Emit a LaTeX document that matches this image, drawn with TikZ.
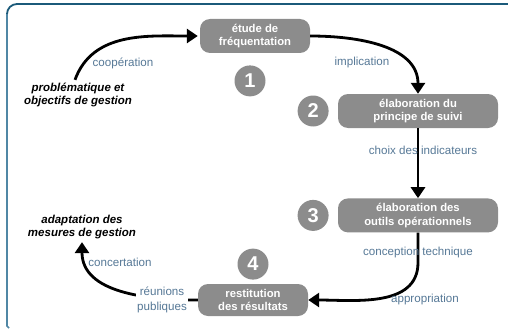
\documentclass[tikz,border=0pt]{standalone}
\usepackage{fontspec}
\setmainfont{Liberation Sans}
\usetikzlibrary{positioning,arrows.meta}
\definecolor{boxgray}{RGB}{140,140,140}
\definecolor{lblblue}{RGB}{86,120,150}
\definecolor{framedark}{RGB}{27,90,122}
\definecolor{framelight}{RGB}{80,135,165}
\tikzset{
box/.style={rounded corners=10pt, fill=boxgray, text=white, font=\fontsize{11.3}{13.5}\selectfont\bfseries, align=center, minimum width=110pt, minimum height=34pt, inner sep=2pt},
wide/.style={minimum width=160pt},
num/.style={circle, fill=boxgray, text=white, font=\fontsize{20}{20}\selectfont\bfseries, minimum size=31pt, inner sep=0pt},
lbl/.style={text=lblblue, font=\fontsize{11.6}{13}\selectfont},
goal/.style={font=\fontsize{11.5}{12.5}\selectfont\bfseries\itshape, align=center},
flow/.style={line width=2.8pt, -{Triangle[width=14pt,length=11pt]}}
}
\begin{document}
\begin{tikzpicture}[x=1pt,y=1pt]
\useasboundingbox (0,0) rectangle (508,-329);
\draw[framelight, line width=1.6pt] (9,-328) -- (7,-326) -- (7,-14);
\draw[framedark, line width=1.8pt] (7,-14) arc (180:90:10) -- (508,-4);
\node[box] (b1) at (255,-36) {étude de\\fréquentation};
\node[num, below=12pt of b1, xshift=-5pt] (c1) {1};
\node[box, wide] (b2) at (418,-111) {élaboration du\\principe de suivi};
\node[num, left=9pt of b2] (c2) {2};
\node[box, wide, below=70pt of b2] (b3) {élaboration des\\outils opérationnels};
\node[num, left=9pt of b3] (c3) {3};
\node[box, minimum height=32pt] (b4) at (253,-300) {restitution\\des résultats};
\node[num, above=4pt of b4] (c4) {4};
\node[goal] (g1) at (78,-95) {problématique et\\objectifs de gestion};
\node[goal] (g2) at (82,-227) {adaptation des\\mesures de gestion};
\draw[flow, shorten >=2pt] ([xshift=-3pt]g1.north) to[out=70,in=180] (b1.west);
\draw[flow] (b1.east) to[out=0,in=90] (b2.north);
\draw[flow] (b2.south) -- (b3.north);
\draw[flow] (b3.south) -- ++(0,-30) to[out=-90,in=0] (b4.east);
\draw[flow] (b4.west) to[out=180,in=-90] (g2.south);
\node[lbl] (l1) at (123,-63) {coopération};
\node[lbl] (l2) at (362,-63) {implication};
\node[lbl] (l3) at (423,-150) {choix des indicateurs};
\node[lbl] (l4) at (418,-252) {conception technique};
\node[lbl] (l5) at (425,-299) {appropriation};
\node[lbl] (l6) at (120,-262) {concertation};
\node[lbl, fill=white, align=center, inner sep=1pt, font=\fontsize{11.6}{15.5}\selectfont] (l7) at (162,-300) {réunions\\publiques};
\end{tikzpicture}
\end{document}
